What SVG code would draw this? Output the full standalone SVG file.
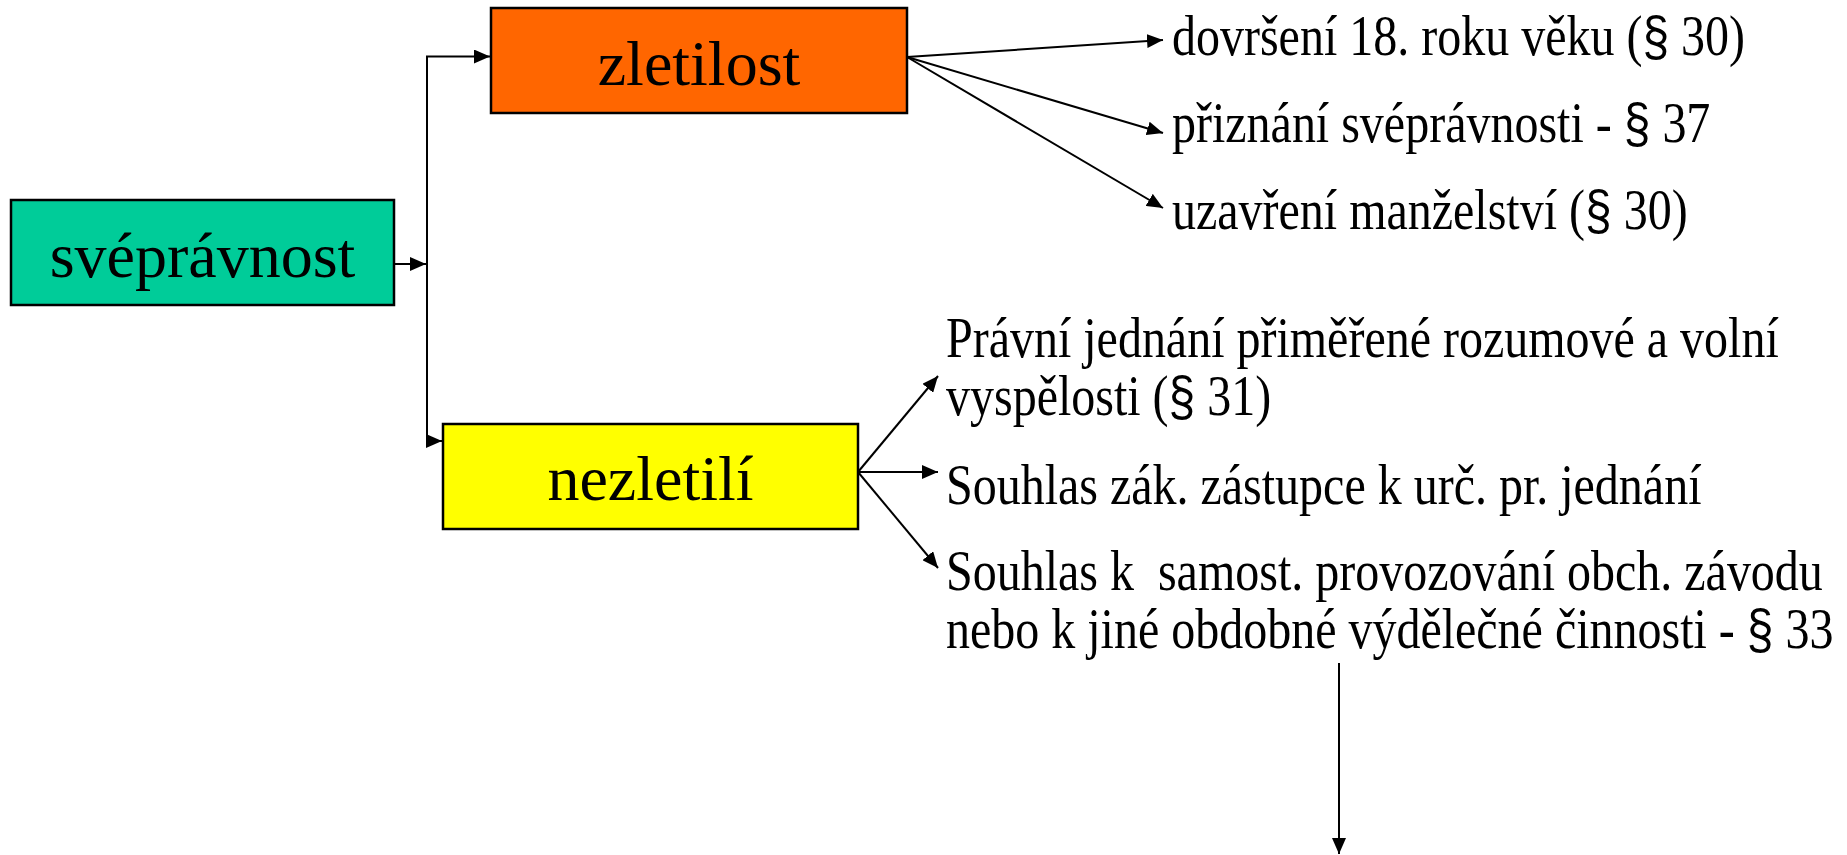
<svg xmlns="http://www.w3.org/2000/svg" width="1847" height="855" viewBox="0 0 1847 855">
  <style>
    .box { stroke: #000; stroke-width: 2.5; }
    .lbl { font-family: "Liberation Serif", "Times New Roman", serif; font-size: 64px; fill: #000; text-anchor: middle; }
    .txt { font-family: "Liberation Serif", "Times New Roman", serif; font-size: 48px; fill: #000; }
    .par { font-family: "Liberation Sans", Arial, sans-serif; }
    .con { fill: none; stroke: #000; stroke-width: 2; }
  </style>
  <defs>
    <marker id="arr" markerUnits="userSpaceOnUse" markerWidth="16" markerHeight="14" refX="16" refY="7" orient="auto">
      <path d="M0,0 L16,7 L0,14 Z" fill="#000"/>
    </marker>
  </defs>
  <rect width="1847" height="855" fill="#fff"/>

  <g id="connectors">
    <path class="con" d="M394,264 H426" marker-end="url(#arr)"/>
    <path class="con" d="M427,441 V56.5 H490" marker-end="url(#arr)"/>
    <path class="con" d="M427,441 H442" marker-end="url(#arr)"/>
    <path class="con" d="M907,57 L1163,40" marker-end="url(#arr)"/>
    <path class="con" d="M907,57 L1163,133" marker-end="url(#arr)"/>
    <path class="con" d="M907,57 L1163,208" marker-end="url(#arr)"/>
    <path class="con" d="M858,472 L938,376" marker-end="url(#arr)"/>
    <path class="con" d="M858,472 L938,472" marker-end="url(#arr)"/>
    <path class="con" d="M858,472 L938,568" marker-end="url(#arr)"/>
    <path class="con" d="M1339,663 V854" marker-end="url(#arr)"/>
  </g>

  <g id="node-svepravnost">
    <rect class="box" x="11" y="200" width="383" height="105" fill="#00CC99"/>
    <text class="lbl" x="202.5" y="277">svéprávnost</text>
  </g>
  <g id="node-zletilost">
    <rect class="box" x="491" y="8" width="416" height="105" fill="#FF6600"/>
    <text class="lbl" x="699" y="85">zletilost</text>
  </g>
  <g id="node-nezletili">
    <rect class="box" x="443" y="424" width="415" height="105" fill="#FFFF00"/>
    <text class="lbl" x="650.5" y="500">nezletilí</text>
  </g>

  <g id="node-dovrseni">
    <text class="txt" transform="translate(1172,55) scale(1,1.17)">dovršení 18. roku věku (<tspan class="par">§</tspan> 30)</text>
  </g>
  <g id="node-priznani">
    <text class="txt" transform="translate(1172,142) scale(1,1.17)">přiznání svéprávnosti - <tspan class="par">§</tspan> 37</text>
  </g>
  <g id="node-uzavreni">
    <text class="txt" transform="translate(1172,229) scale(1,1.17)">uzavření manželství (<tspan class="par">§</tspan> 30)</text>
  </g>
  <g id="node-pravni-jednani">
    <text class="txt" transform="translate(946,357) scale(1,1.17)">Právní jednání přiměřené rozumové a volní</text>
    <text class="txt" transform="translate(946,415) scale(1,1.17)">vyspělosti (<tspan class="par">§</tspan> 31)</text>
  </g>
  <g id="node-souhlas-zak">
    <text class="txt" transform="translate(946,504) scale(1,1.17)">Souhlas zák. zástupce k urč. pr. jednání</text>
  </g>
  <g id="node-souhlas-samost">
    <text class="txt" transform="translate(946,590) scale(1,1.17)" xml:space="preserve">Souhlas k  samost. provozování obch. závodu</text>
    <text class="txt" transform="translate(946,648) scale(1,1.17)">nebo k jiné obdobné výdělečné činnosti - <tspan class="par">§</tspan> 33</text>
  </g>
</svg>
